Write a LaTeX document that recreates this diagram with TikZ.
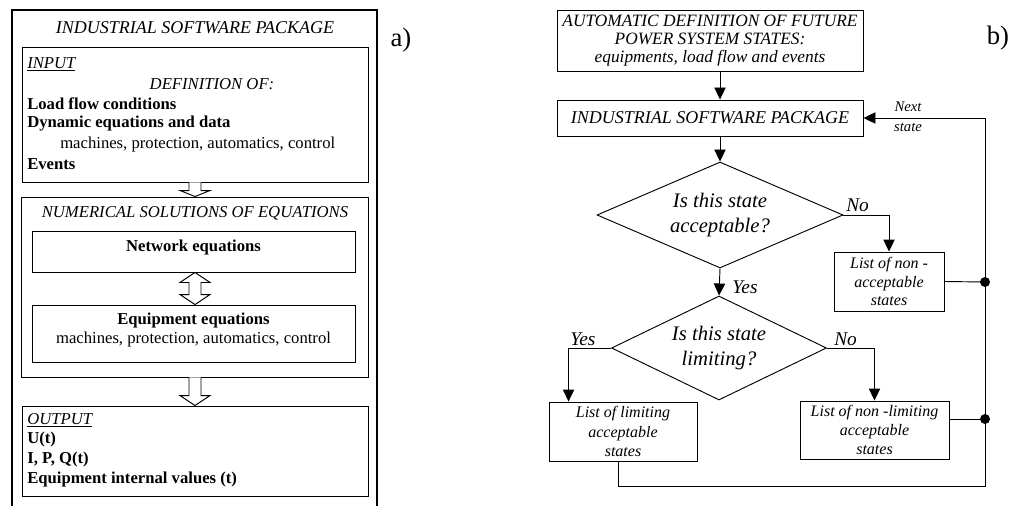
\documentclass[tikz,border=0pt]{standalone}
\usepackage{fontspec}
\setmainfont{Liberation Serif}
\usetikzlibrary{shapes.geometric,arrows.meta,calc,fit}
% hollow block arrow from node anchor #1 down to node anchor #2, head length #3
\newcommand\blockarrow[3]{%
  \draw[blk] let \p1=(#1), \p2=(#2) in
    (\x1-4.5pt,\y1) -- (\x1-4.5pt,\y2+#3) -- (\x1-11.25pt,\y2+#3) -- (\x1,\y2)
    -- (\x1+11.25pt,\y2+#3) -- (\x1+4.5pt,\y2+#3) -- (\x1+4.5pt,\y1);}
\begin{document}
\begin{tikzpicture}[x=0.75pt,y=-0.75pt,
  ltxt/.style={inner sep=0pt,font=\fontsize{12.5}{15}\selectfont},
  lit/.style={ltxt,font=\fontsize{12.5}{15}\selectfont\itshape},
  lbf/.style={ltxt,font=\fontsize{12.5}{15}\selectfont\bfseries},
  lbox/.style={draw,line width=0.7pt,inner sep=0pt},
  blk/.style={draw,line width=0.7pt,fill=white},
  rbox/.style={draw,line width=0.7pt,inner sep=0pt,align=center,rectangle},
  dia/.style={draw,diamond,inner sep=0pt,line width=0.7pt,align=center,
              font=\fontsize{15.5}{19}\selectfont\itshape},
  lab/.style={inner sep=0pt,font=\fontsize{14.5}{17}\selectfont\itshape},
  conn/.style={line width=0.7pt},
  arr/.style={conn,-{Triangle[length=9pt,width=8.5pt]}},
  dot/.style={circle,fill,inner sep=0pt,minimum size=7.5pt},
  big/.style={inner sep=0pt,font=\fontsize{20}{22}\selectfont},
  lst/.style={rbox,font=\fontsize{12}{14.5}\selectfont\itshape},
]
\useasboundingbox (0,0) rectangle (1020,506);

% ---------------- a) ----------------
\draw[line width=2.2pt] (12,512) -- (12,10) -- (377,10) -- (377,512);
\node[lit,font=\fontsize{13.5}{15}\selectfont\itshape] (title) at (195,28) {INDUSTRIAL SOFTWARE PACKAGE};

\node[lbox,fit={(22,47) (368,182)}] (inp) {};
\node[lit,anchor=west] (inlab) at (27,64) {\underline{INPUT}};
\node[lit] (defof) at (212,84) {DEFINITION OF:};
\node[lbf,anchor=west] (lf) at (27,104) {Load flow conditions};
\node[lbf,anchor=west] (dyn) at (27,124) {Dynamic equations and data};
\node[ltxt,anchor=west] (mach1) at (60,144) {machines, protection, automatics, control};
\node[lbf,anchor=west] (ev) at (27,164) {Events};

\node[lbox,fit={(21,197) (368,377)}] (num) {};
\node[lit] (numlab) at (195,213) {NUMERICAL SOLUTIONS OF EQUATIONS};
\node[lbox,fit={(32,231) (355,272)}] (net) {};
\node[lbf] (netlab) at (193.5,247) {Network equations};
\node[lbox,fit={(32,305) (355,362)}] (eq) {};
\node[lbf] (eqlab) at (193.5,320) {Equipment equations};
\node[ltxt] (mach2) at (193.5,339) {machines, protection, automatics, control};

\node[lbox,fit={(22,406) (368,496)}] (out) {};
\node[lit,anchor=west] (outlab) at (27,420) {\underline{OUTPUT}};
\node[lbf,anchor=west] (ut) at (27,439) {U(t)};
\node[lbf,anchor=west] (ipq) at (27,459) {I, P, Q(t)};
\node[lbf,anchor=west] (eiv) at (27,479) {Equipment internal values (t)};

\coordinate (a1) at (inp.south -| 195,0); \coordinate (a2) at (num.north -| 195,0);
\blockarrow{a1}{a2}{4.5pt}
\coordinate (a3) at (num.south -| 195,0); \coordinate (a4) at (out.north -| 195,0);
\blockarrow{a3}{a4}{7.5pt}
\coordinate (d1) at (net.south -| 195,0); \coordinate (d2) at (eq.north -| 195,0);
\draw[blk] let \p1=(d1), \p2=(d2) in
  (\x1,\y1) -- (\x1+11.25pt,\y1-7.5pt) -- (\x1+4.5pt,\y1-7.5pt) -- (\x1+4.5pt,\y2+7.5pt)
  -- (\x1+11.25pt,\y2+7.5pt) -- (\x1,\y2) -- (\x1-11.25pt,\y2+7.5pt) -- (\x1-4.5pt,\y2+7.5pt)
  -- (\x1-4.5pt,\y1-7.5pt) -- (\x1-11.25pt,\y1-7.5pt) -- cycle;

\node[big] (alab) at (401,40) {a)};

% ---------------- b) ----------------
\node[rbox,minimum width=229.5pt,minimum height=45.75pt,
      font=\fontsize{13}{13.5}\selectfont\itshape] (auto) at (710,40.5)
  {AUTOMATIC DEFINITION OF FUTURE\\POWER SYSTEM STATES:\\equipments, load flow and events};
\node[rbox,minimum width=229.5pt,minimum height=27pt,
      font=\fontsize{13.5}{15}\selectfont\itshape] (isp) at (710,118)
  {INDUSTRIAL SOFTWARE PACKAGE};
\node[dia,aspect=2.32,minimum width=184.5pt,minimum height=79.5pt] (q1) at (720,215)
  {Is this state\\acceptable?};
\node[dia,aspect=2.07,minimum width=161.25pt,minimum height=78pt] (q2) at (719,348)
  {Is this state\\limiting?};
\node[lst,minimum width=82.5pt,minimum height=44.25pt,
      font=\fontsize{12}{14}\selectfont\itshape] (nacc) at (889,281.5)
  {List of non -\\acceptable\\states};
\node[lst,minimum width=111pt,minimum height=44.25pt] (lim) at (623,431.5)
  {List of limiting\\acceptable\\states};
\node[lst,minimum width=111.75pt,minimum height=43.5pt] (nlim) at (874.5,430)
  {List of non -limiting\\acceptable\\states};

\draw[arr] (q1.north |- auto.south) -- (q1.north |- isp.north);
\draw[arr] (q1.north |- isp.south) -- (q1.north);
\draw[arr] (q1.south) -- (q2.north);
\draw[arr] (q1.east) -| (nacc.north);
\coordinate (limin) at ($(lim.north west)+(20,0)$);
\draw[arr] (q2.west) -| (limin);
\draw[arr] (q2.east) -| (nlim.north);

\coordinate (br) at (985,486);
\coordinate (j1) at (985,282);
\coordinate (j2) at (985,419);
\coordinate (limout) at ($(lim.south west)+(70,0)$);
\draw[arr] (limout) |- (br) |- (isp.east);
\draw[conn] (nacc.east) -- (j1);
\draw[conn] (j2 -| nlim.east) -- (j2);
\node[dot] (dot1) at (j1) {};
\node[dot] (dot2) at (j2) {};

\node[lab] (yes1) at (745,287) {Yes};
\node[lab,anchor=base west] (no1) at (846,211) {No};
\node[lab,anchor=base west] (yes2) at (570,345) {Yes};
\node[lab,anchor=base west] (no2) at (834,345) {No};
\node[inner sep=0pt,font=\fontsize{11}{13}\selectfont\itshape] (next) at (908,107) {Next};
\node[inner sep=0pt,font=\fontsize{11}{13}\selectfont\itshape] (state) at (908,127) {state};

\node[big] (blab) at (998,38) {b)};
\end{tikzpicture}
\end{document}
